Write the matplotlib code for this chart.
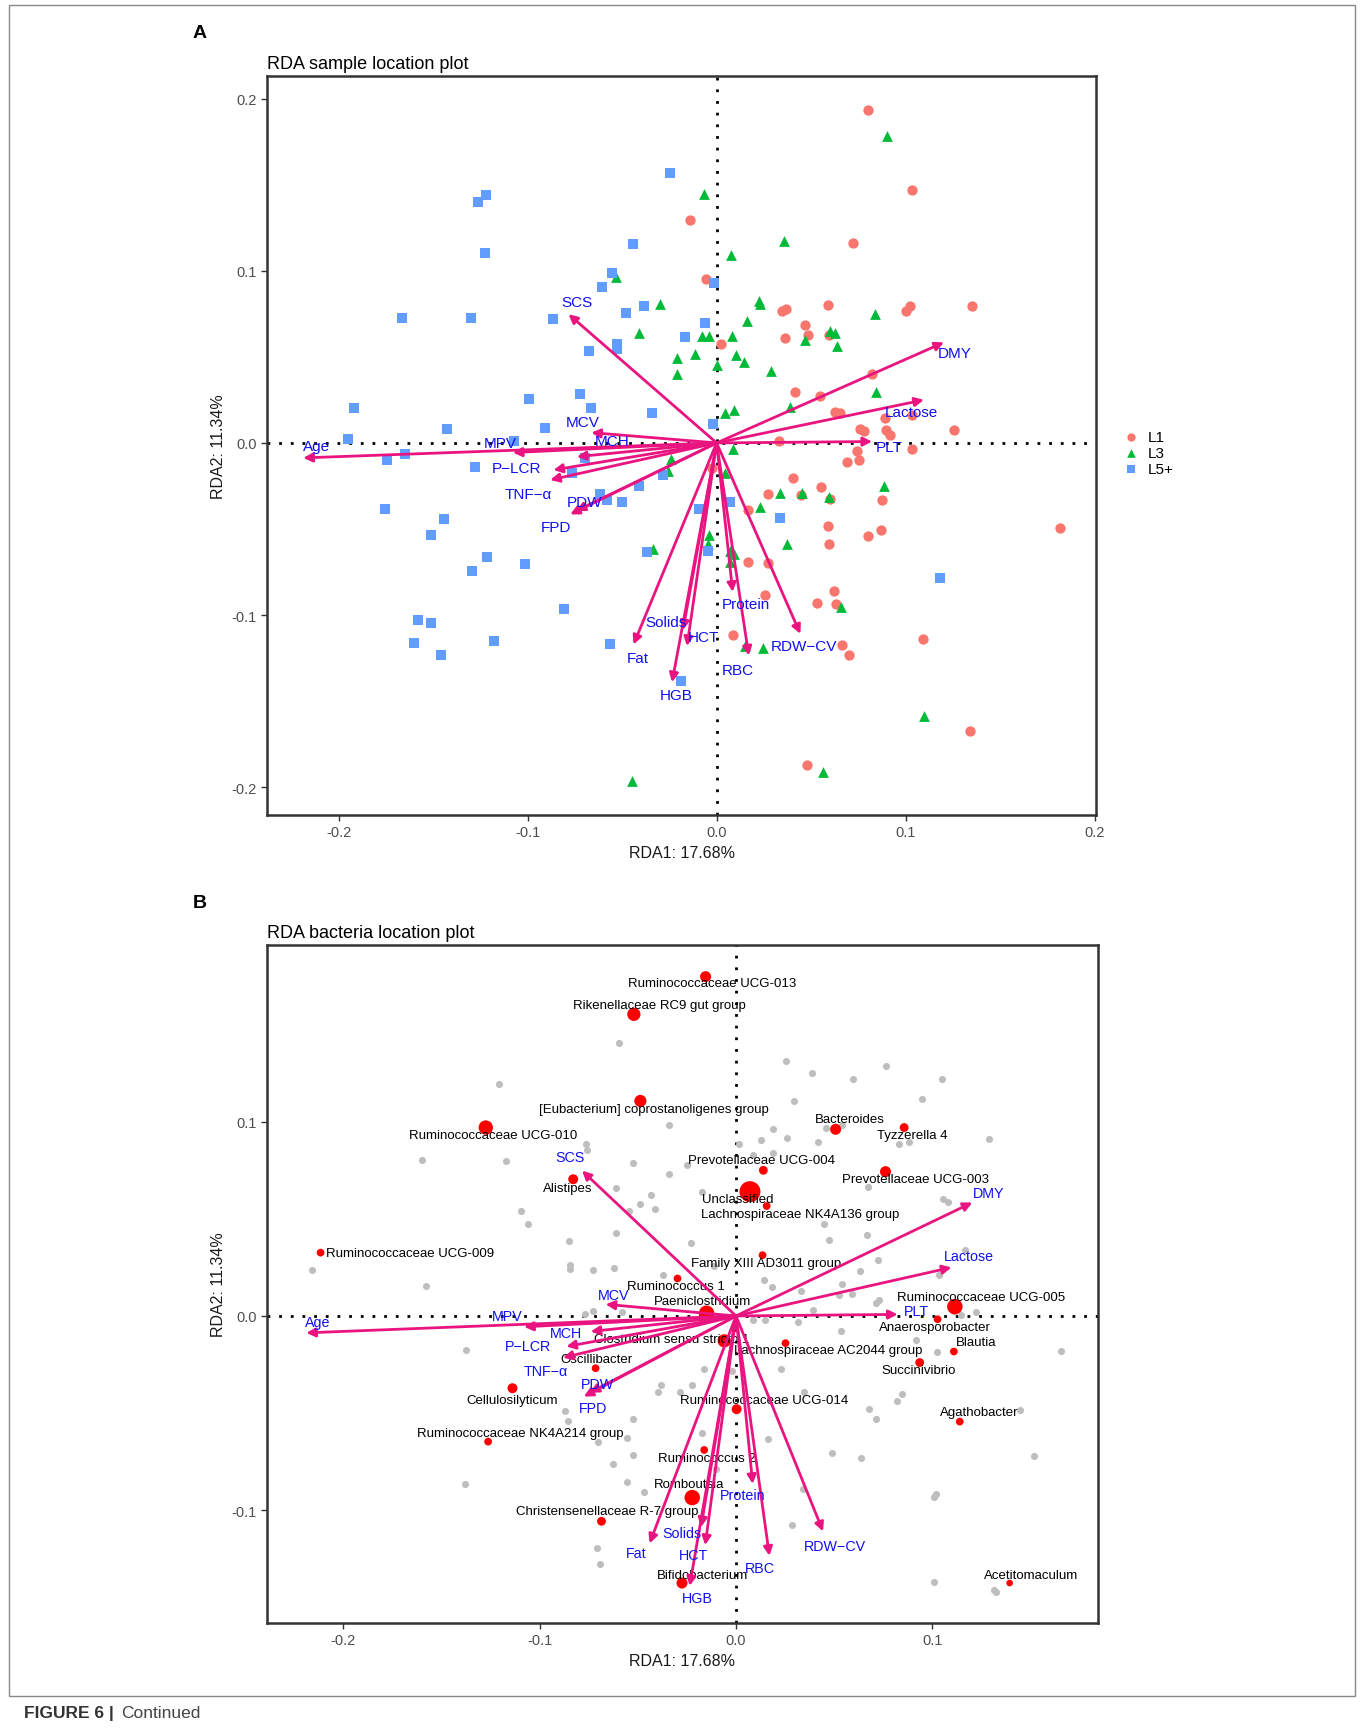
import numpy as np
import matplotlib
matplotlib.use("Agg")
import matplotlib.pyplot as plt
from matplotlib.patches import Rectangle
from matplotlib.ticker import FormatStrFormatter

plt.rcParams['font.family'] = ['Liberation Sans', 'DejaVu Sans']

# ---------------- data ----------------
# environmental vectors (RDA1, RDA2)
env_names = ['SCS', 'DMY', 'Lactose', 'PLT', 'Protein', 'RDW\u2212CV', 'RBC', 'HCT',
             'Solids', 'HGB', 'Fat', 'FPD', 'PDW', 'TNF\u2212\u03b1', 'P\u2212LCR', 'MPV',
             'MCH', 'MCV', 'Age']
env_x = [-0.0784, 0.1203, 0.1097, 0.0823, 0.0085, 0.0443, 0.0170, -0.0157,
         -0.0178, -0.0236, -0.0440, -0.0775, -0.0745, -0.0881, -0.0864, -0.1079,
         -0.0740, -0.0664, -0.2188]
env_y = [0.0748, 0.0584, 0.0250, 0.0008, -0.0865, -0.1109, -0.1235, -0.1180,
         -0.1087, -0.1390, -0.1171, -0.0415, -0.0395, -0.0215, -0.0157, -0.0056,
         -0.0080, 0.0060, -0.0087]

# sample scores by group
l1_x = [0.0801, 0.1035, -0.0143, 0.0721, -0.0056, 0.0347, 0.0368, 0.0588, 0.1000, 0.1026,
        0.1350, 0.0467, 0.0364, 0.0482, 0.0594, 0.0025, 0.0823, 0.0417, 0.0545, 0.0629,
        0.0652, 0.0891, 0.1032, 0.1256, 0.0758, 0.0780, 0.0894, 0.0920, 0.0329, 0.1035,
        0.0744, 0.0688, 0.0756, 0.0405, 0.0553, 0.0271, 0.0447, 0.0599, 0.0877, 0.0164,
        0.0591, 0.0868, 0.0801, 0.0594, -0.0025, 0.0167, 0.0273, 0.0620, 0.0258, 0.0532,
        0.0633, 0.0085, 0.0664, 0.0700, 0.1094, 0.1341, 0.0480, 0.1819]
l1_y = [0.1935, 0.1469, 0.1293, 0.1159, 0.0952, 0.0768, 0.0777, 0.0800, 0.0768, 0.0793,
        0.0797, 0.0686, 0.0612, 0.0626, 0.0626, 0.0574, 0.0403, 0.0293, 0.0273, 0.0177,
        0.0173, 0.0142, 0.0161, 0.0076, 0.0083, 0.0070, 0.0076, 0.0045, 0.0012, -0.0037,
        -0.0046, -0.0110, -0.0101, -0.0202, -0.0254, -0.0298, -0.0302, -0.0324, -0.0333, -0.0392,
        -0.0483, -0.0506, -0.0541, -0.0589, -0.0143, -0.0692, -0.0696, -0.0861, -0.0886, -0.0929,
        -0.0935, -0.1113, -0.1175, -0.1231, -0.1138, -0.1675, -0.1868, -0.0494]

l3_x = [-0.0533, -0.0413, 0.0903, -0.0067, 0.0354, 0.0078, 0.0223, 0.0228, -0.0298, 0.0837,
        0.0161, -0.0077, -0.0042, 0.0082, 0.0470, 0.0602, 0.0624, 0.0638, -0.0210, -0.0117,
        0.0105, 0.0147, -0.0210, 0.0002, 0.0290, 0.0841, 0.0046, 0.0094, 0.0387, 0.0087,
        -0.0242, -0.0259, 0.0046, 0.0885, 0.0337, 0.0453, 0.0594, 0.0228, 0.0370, -0.0042,
        -0.0046, -0.0339, 0.0069, 0.0094, 0.0069, 0.0656, 0.0149, 0.0244, 0.1097, 0.0561,
        -0.0450]
l3_y = [0.0961, 0.0637, 0.1785, 0.1446, 0.1171, 0.1093, 0.0825, 0.0806, 0.0806, 0.0748,
        0.0709, 0.0622, 0.0622, 0.0622, 0.0599, 0.0651, 0.0637, 0.0564, 0.0496, 0.0515,
        0.0512, 0.0471, 0.0399, 0.0451, 0.0418, 0.0297, 0.0173, 0.0190, 0.0211, -0.0033,
        -0.0091, -0.0163, -0.0173, -0.0250, -0.0293, -0.0289, -0.0312, -0.0370, -0.0585, -0.0537,
        -0.0589, -0.0618, -0.0628, -0.0648, -0.0692, -0.0954, -0.1180, -0.1190, -0.1588, -0.1913,
        -0.1964]

l5_x = [-0.1265, -0.1222, -0.1226, -0.1664, -0.1300, -0.0864, -0.0443, -0.0555, -0.0608, -0.0481,
        -0.0384, -0.0673, -0.0528, -0.0528, -0.0722, -0.0992, -0.0247, -0.0016, -0.0063, -0.0169,
        -0.1918, -0.1950, -0.1429, -0.0666, -0.0908, -0.1072, -0.1742, -0.1651, -0.1277, -0.0767,
        -0.0696, -0.0616, -0.0578, -0.0502, -0.0410, -0.1756, -0.1443, -0.1512, -0.1215, -0.1293,
        -0.1016, -0.0809, -0.1581, -0.1512, -0.1604, -0.1178, -0.1459, -0.0564, -0.0369, -0.0340,
        -0.0021, -0.0284, 0.0073, -0.0095, 0.0337, -0.0046, 0.1182, -0.0189]
l5_y = [0.1401, 0.1440, 0.1101, 0.0723, 0.0723, 0.0719, 0.1155, 0.0985, 0.0903, 0.0752,
        0.0793, 0.0535, 0.0574, 0.0548, 0.0283, 0.0254, 0.1568, 0.0926, 0.0694, 0.0616,
        0.0205, 0.0025, 0.0080, 0.0202, 0.0089, 0.0012, -0.0101, -0.0066, -0.0137, -0.0177,
        -0.0089, -0.0298, -0.0331, -0.0343, -0.0250, -0.0382, -0.0444, -0.0535, -0.0665, -0.0745,
        -0.0702, -0.0963, -0.1028, -0.1045, -0.1161, -0.1148, -0.1229, -0.1167, -0.0634, 0.0174,
        0.0112, -0.0188, -0.0341, -0.0386, -0.0438, -0.0628, -0.0783, -0.1384]

# highlighted genera (RDA1, RDA2, relative abundance)
taxa = ['Ruminococcaceae UCG-013', 'Rikenellaceae RC9 gut group',
        '[Eubacterium] coprostanoligenes group', 'Ruminococcaceae UCG-010', 'Bacteroides',
        'Tyzzerella 4', 'Prevotellaceae UCG-004', 'Prevotellaceae UCG-003', 'Alistipes',
        'Unclassified', 'Lachnospiraceae NK4A136 group', 'Ruminococcaceae UCG-009',
        'Family XIII AD3011 group', 'Ruminococcus 1', 'Paeniclostridium',
        'Ruminococcaceae UCG-005', 'Anaerosporobacter', 'Blautia', 'Succinivibrio',
        'Lachnospiraceae AC2044 group', 'Clostridium sensu stricto 1', 'Oscillibacter',
        'Cellulosilyticum', 'Ruminococcaceae NK4A214 group', 'Ruminococcaceae UCG-014',
        'Ruminococcus 2', 'Agathobacter', 'Romboutsia', 'Christensenellaceae R-7 group',
        'Bifidobacterium', 'Acetitomaculum']
taxa_x = [-0.0155, -0.0520, -0.0487, -0.1274, 0.0507, 0.0856, 0.0139, 0.0761, -0.0829,
          0.0071, 0.0156, -0.2115, 0.0135, -0.0298, -0.0150, 0.1114, 0.1026, 0.1109,
          0.0935, 0.0252, -0.0060, -0.0715, -0.1138, -0.1262, 0.0003, -0.0162, 0.1139,
          -0.0223, -0.0685, -0.0275, 0.1393]
taxa_y = [0.1747, 0.1553, 0.1107, 0.0970, 0.0961, 0.0970, 0.0750, 0.0743, 0.0704,
          0.0640, 0.0566, 0.0326, 0.0313, 0.0193, 0.0014, 0.0048, -0.0017, -0.0183,
          -0.0240, -0.0140, -0.0128, -0.0269, -0.0372, -0.0647, -0.0480, -0.0690, -0.0544,
          -0.0935, -0.1057, -0.1375, -0.1375]
taxa_abund = [10, 12, 11, 13, 10, 8, 8, 10, 9, 19, 7, 7, 7, 7, 14, 14, 7, 7, 8, 7, 12,
              7, 9, 7, 9, 7, 7, 14, 8, 10, 6]

# remaining genera
other_x = [-0.0595, -0.1206, -0.0766, -0.0761, -0.1601, -0.1169, -0.0524, -0.0612, -0.0342, -0.0342,
           0.0254, 0.0388, 0.0593, 0.0763, 0.1051, 0.0946, 0.0294, 0.0186, 0.0457, 0.0537,
           0.0262, 0.0126, 0.0016, 0.0419, 0.0831, 0.0881, 0.1287, 0.0084, 0.0189, -0.0252,
           0.0673, -0.0435, -0.0487, -0.0413, -0.0544, -0.1096, -0.1058, -0.0612, -0.0851, -0.0846,
           -0.0846, -0.0728, -0.0620, -0.0371, -0.2161, -0.1579, -0.0770, -0.0730, -0.0580, -0.1375,
           -0.0383, -0.0399, -0.0871, -0.0855, -0.0524, -0.0705, -0.0557, -0.0524, -0.0625, -0.0175,
           0.0447, 0.0668, 0.0475, -0.0230, -0.0113, 0.0142, 0.0185, 0.0630, 0.0542, 0.0591,
           0.0332, 0.0728, 0.0712, 0.0393, 0.0088, 0.0147, 0.0313, 0.0534, -0.0162, -0.0022,
           0.0227, -0.0283, -0.0223, 0.0345, 0.0676, 0.0712, 0.0164, -0.0172, 0.0490, 0.1054,
           0.1077, 0.1168, 0.0724, 0.1033, 0.0525, 0.1109, 0.1144, 0.1221, 0.0915, 0.1024,
           0.0847, 0.0820, 0.0635, -0.1380, -0.0554, -0.0469, -0.0103, 0.0339, 0.1652, 0.1517,
           0.1444, 0.1006, 0.1017, 0.1315, 0.1326, 0.1006, 0.0287, -0.0691, -0.0708]
other_y = [0.1406, 0.1195, 0.0884, 0.0855, 0.0802, 0.0798, 0.0785, 0.0661, 0.0984, 0.0730,
           0.1313, 0.1249, 0.1219, 0.1288, 0.1222, 0.1116, 0.1107, 0.0961, 0.0970, 0.0982,
           0.0918, 0.0906, 0.0887, 0.0896, 0.0887, 0.0896, 0.0910, 0.0829, 0.0841, 0.0778,
           0.0666, 0.0622, 0.0575, 0.0553, 0.0541, 0.0541, 0.0476, 0.0426, 0.0386, 0.0261,
           0.0240, 0.0235, 0.0245, 0.0210, 0.0235, 0.0155, 0.0009, 0.0026, 0.0018, -0.0175,
           -0.0355, -0.0391, -0.0489, -0.0540, -0.0532, -0.0648, -0.0626, -0.0714, -0.0764, 0.0640,
           0.0476, 0.0415, 0.0390, 0.0378, 0.0258, 0.0186, 0.0151, 0.0232, 0.0163, 0.0112,
           0.0126, 0.0081, 0.0065, 0.0031, -0.0020, -0.0020, -0.0031, -0.0080, -0.0271, -0.0283,
           -0.0271, -0.0394, -0.0355, -0.0391, -0.0477, -0.0528, -0.0635, -0.0601, -0.0704, 0.0601,
           0.0587, 0.0340, 0.0287, 0.0213, 0.0110, 0.0026, 0.0004, 0.0018, -0.0125, -0.0183,
           -0.0400, -0.0438, -0.0733, -0.0864, -0.0855, -0.0906, -0.0786, -0.0889, -0.0182, -0.0722,
           -0.0483, -0.0932, -0.0915, -0.1409, -0.1420, -0.1369, -0.1074, -0.1278, -0.1193]

# ---------------- label layout (offsets in reference pixels) ----------------
env_off_a = {'SCS': (8, -11), 'DMY': (10, 10), 'Lactose': (-11, 11), 'PLT': (15, 5),
             'Protein': (12, 11), 'RDW\u2212CV': (3, 11), 'RBC': (-10, 13), 'HCT': (15, -8),
             'Solids': (-15, -7), 'HGB': (4, 12), 'Fat': (4, 12), 'FPD': (-13, 11),
             'PDW': (8, -8), 'TNF\u2212\u03b1': (-20, 13), 'P\u2212LCR': (-33, -2),
             'MPV': (-11, -9), 'MCH': (32, -14), 'MCV': (-8, -10), 'Age': (12, -11)}
env_off_b = {'SCS': (-11, -12), 'DMY': (15, -9), 'Lactose': (16, -10), 'PLT': (17, -3),
             'Protein': (-9, 10), 'RDW\u2212CV': (11, 13), 'RBC': (-9, 11), 'HCT': (-11, 9),
             'Solids': (-17, 5), 'HGB': (7, 11), 'Fat': (-12, 9), 'FPD': (8, 10),
             'PDW': (7, -8), 'TNF\u2212\u03b1': (-16, 12), 'P\u2212LCR': (-35, 0),
             'MPV': (-15, -10), 'MCH': (-22, 1), 'MCV': (7, -8), 'Age': (10, -10)}
taxa_off = [(6, 6), (23, -8), (12, 7), (7, 7), (13, -9), (7, 7), (-2, -9), (27, 7), (-5, 8),
            (-11, 7), (30, 7), (81, 0), (3, 7), (-1, 7), (-4, -11), (24, -9), (-2, 7), (20, -9),
            (-1, 7), (39, 6), (-48, -2), (1, -8), (0, 11), (29, -8), (25, -8), (2, 7), (18, -9),
            (-3, -12), (5, -9), (19, -7), (19, -7)]

K = 1362 / 1234.0  # reference px -> output px
PINK = '#EA1480'
BLUE = '#1010F0'
FRAME = '#333333'

fig = plt.figure(figsize=(13.62, 17.31), dpi=100)

# outer frame and caption
fig.patches.append(Rectangle((0.0065, 0.0198), 0.9885, 0.977, transform=fig.transFigure,
                             fill=False, edgecolor='#888888', lw=1.0))
fig.text(22 / 1234, 1 - 1552 / 1568, 'FIGURE 6 |', fontsize=12.5, fontweight='bold',
         color='#333333', va='center', ha='left')
fig.text(110 / 1234, 1 - 1552 / 1568, 'Continued', fontsize=12.5, color='#444444',
         va='center', ha='left')
fig.text(181 / 1234, 1 - 30 / 1568, 'A', fontsize=14, fontweight='bold', ha='center', va='center')
fig.text(181 / 1234, 1 - 818 / 1568, 'B', fontsize=14, fontweight='bold', ha='center', va='center')


def style_axes(ax, title):
    for sp in ax.spines.values():
        sp.set_color(FRAME)
        sp.set_linewidth(1.8)
    ax.tick_params(direction='out', length=4, width=1, color=FRAME,
                   labelsize=10.5, labelcolor='#4D4D4D')
    ax.xaxis.set_major_formatter(FormatStrFormatter('%.1f'))
    ax.yaxis.set_major_formatter(FormatStrFormatter('%.1f'))
    ax.axhline(0, color='black', lw=2, ls=(0, (1, 3.2)), zorder=1)
    ax.axvline(0, color='black', lw=2, ls=(0, (1, 3.2)), zorder=1)
    ax.set_xlabel('RDA1: 17.68%', fontsize=11.5, color='#1a1a1a', labelpad=4)
    ax.set_ylabel('RDA2: 11.34%', fontsize=11.5, color='#1a1a1a', labelpad=4)
    ax.set_title(title, loc='left', fontsize=13, pad=6)


def draw_env(ax, offsets, fs):
    for name, x, y in zip(env_names, env_x, env_y):
        ax.annotate('', xy=(x, y), xytext=(0, 0),
                    arrowprops=dict(arrowstyle='-|>', color=PINK, lw=2.0,
                                    mutation_scale=13, shrinkA=0, shrinkB=0),
                    zorder=5)
    for name, x, y in zip(env_names, env_x, env_y):
        dx, dy = offsets[name]
        ax.annotate(name, xy=(x, y), xytext=(dx * K, -dy * K), textcoords='offset pixels',
                    ha='center', va='center', color=BLUE, fontsize=fs, zorder=6)


# ---------------- panel A ----------------
axA = fig.add_axes([0.196, 0.5287, 0.609, 0.4267])
axA.scatter(l1_x, l1_y, s=55, marker='o', color='#F8766D', linewidths=0, label='L1', zorder=3)
axA.scatter(l3_x, l3_y, s=60, marker='^', color='#00BA38', linewidths=0, label='L3', zorder=3)
axA.scatter(l5_x, l5_y, s=45, marker='s', color='#619CFF', linewidths=0, label='L5+', zorder=3)
draw_env(axA, env_off_a, 11)
axA.set_xlim(-0.238, 0.201)
axA.set_ylim(-0.216, 0.213)
axA.set_xticks([-0.2, -0.1, 0.0, 0.1, 0.2])
axA.set_yticks([-0.2, -0.1, 0.0, 0.1, 0.2])
style_axes(axA, 'RDA sample location plot')
leg = axA.legend(loc='center left', bbox_to_anchor=(1.01, 0.49), frameon=False,
                 fontsize=11, handletextpad=0.1, labelspacing=0.15, markerscale=0.8,
                 borderaxespad=0.3)

# ---------------- panel B ----------------
axB = fig.add_axes([0.196, 0.0619, 0.6102, 0.3915])
axB.scatter(other_x, other_y, s=26, color='#BEBEBE', linewidths=0, zorder=2)
sizes = [(a * 0.795) ** 2 for a in taxa_abund]
axB.scatter(taxa_x, taxa_y, s=sizes, color='#FF0000', linewidths=0, zorder=3)
for name, x, y, (dx, dy) in zip(taxa, taxa_x, taxa_y, taxa_off):
    axB.annotate(name, xy=(x, y), xytext=(dx * K, -dy * K), textcoords='offset pixels',
                 ha='center', va='center', color='black', fontsize=9.5, zorder=4)
draw_env(axB, env_off_b, 10.3)
axB.set_xlim(-0.2388, 0.1843)
axB.set_ylim(-0.158, 0.1909)
axB.set_xticks([-0.2, -0.1, 0.0, 0.1])
axB.set_yticks([-0.1, 0.0, 0.1])
style_axes(axB, 'RDA bacteria location plot')

fig.savefig('out.png', dpi=100)
